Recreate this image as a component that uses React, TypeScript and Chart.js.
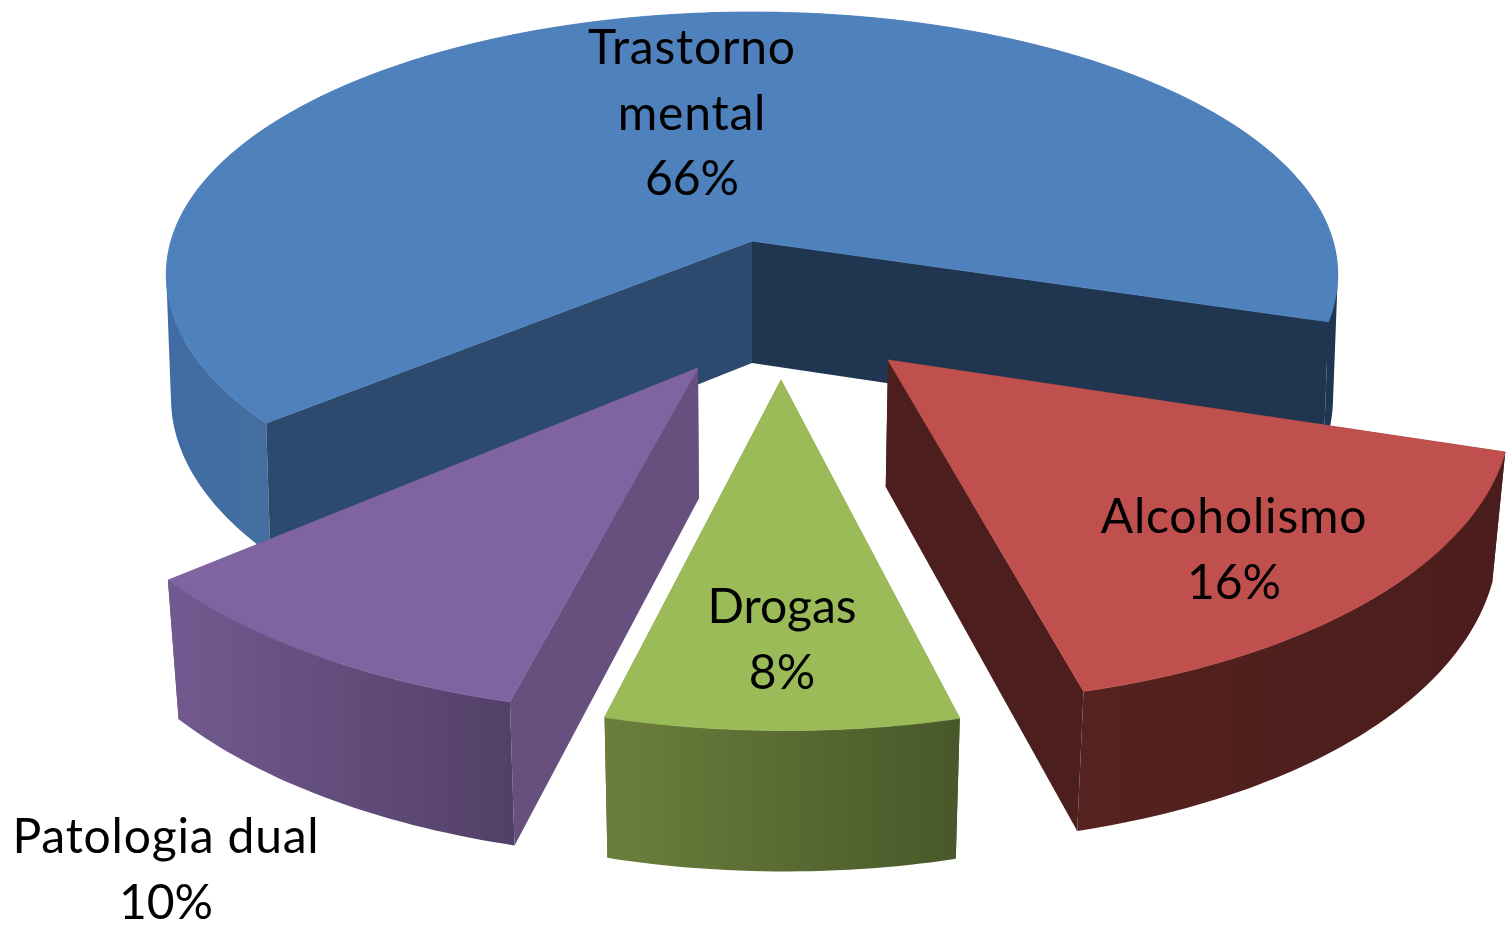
import React, { useEffect, useRef } from "react";
import { Chart, registerables } from "chart.js";

Chart.register(...registerables);

const categories = ["Trastorno mental", "Alcoholismo", "Drogas", "Patologia dual"];
const shares = [66, 16, 8, 10];
const labelLines = [["Trastorno", "mental", "66%"], ["Alcoholismo", "16%"], ["Drogas", "8%"], ["Patologia dual", "10%"]];
const topColors = ["#4F81BD", "#C0504D", "#9BBB59", "#8064A2"];

// Drawing set-up for the 3D look (not data)
const VIEW = { x0: 752, y0: 241, a: 581, b: 257.6, p: 0.125 };
const DEPTH_Q = [0.008, 0.016, 0.016, 0.016];
const DEPTH_C = [123, 124, 124, 127];
const EXPLODE = [[0, 0], [0.2213, 0.4367], [0.0468, 0.5055], [-0.0876, 0.4644]];
const FRONT_STRETCH = [1.015, 1.03, 1.03, 1.03];
const WIDTH_STRETCH = [1, 1, 1, 1.017];
const ANGLE_FIX = [[0.5, 0], [0, 0.8], [1, 0.95], [0.7, 0]];
const DRAW_ORDER = [0, 3, 1, 2];
const RIM = [["#3F6CA3", "#456FA0"], ["#55221F", "#4A1D1C"], ["#6B7F3C", "#48582A"], ["#725A90", "#534067"]];
const WALL_START = ["#2C4A6E", "#4C1E1D", "#4D5F2C", "#674F7E"];
const WALL_END = ["#1F3550", "#4C1E1D", "#4D5F2C", "#5A466F"];
const LABEL_XY = [[692, 49], [1234, 518], [782, 608], [166, 838]];
const LINE_H = 65.5;
const DEG = Math.PI / 180;

function project(u: number, v: number, z: number, q: number, c: number) {
  const w = 1 - VIEW.p * v + q * z;
  return { x: VIEW.x0 + (VIEW.a * u) / w, y: VIEW.y0 + (VIEW.b * v + c * z) / w };
}

const pie3d = {
  id: "pie3d",
  beforeDatasetsDraw(chart: any) {
    const ctx: CanvasRenderingContext2D = chart.ctx;
    const arcs = chart.getDatasetMeta(0).data;
    const poly = (pts: { x: number; y: number }[], fill: any, seam = false) => {
      ctx.beginPath();
      pts.forEach((p, i) => (i ? ctx.lineTo(p.x, p.y) : ctx.moveTo(p.x, p.y)));
      ctx.closePath();
      ctx.fillStyle = fill;
      ctx.fill();
      if (seam) {
        ctx.strokeStyle = fill;
        ctx.lineWidth = 0.8;
        ctx.stroke();
      }
    };
    for (const i of DRAW_ORDER) {
      const props = arcs[i].getProps(["startAngle", "endAngle"], true);
      const startAngle = props.startAngle + ANGLE_FIX[i][0] * DEG;
      const endAngle = props.endAngle + ANGLE_FIX[i][1] * DEG;
      const [ox, oy] = EXPLODE[i];
      const q = DEPTH_Q[i];
      const c = DEPTH_C[i];
      const n = Math.max(8, Math.ceil((endAngle - startAngle) / DEG));
      const at = (k: number, z: number) => {
        const t = startAngle + ((endAngle - startAngle) * k) / n;
        const s = Math.sin(t);
        return project(ox + WIDTH_STRETCH[i] * Math.cos(t), oy + (s > 0 ? FRONT_STRETCH[i] : 1) * s, z, q, c);
      };
      const tipT = project(ox, oy, 0, q, c);
      const tipB = project(ox, oy, 1, q, c);
      const rimT: any[] = [];
      const rimB: any[] = [];
      for (let k = 0; k <= n; k++) {
        rimT.push(at(k, 0));
        rimB.push(at(k, 1));
      }
      const xs = rimT.map((p) => p.x);
      const gx0 = Math.min(...xs);
      const gx1 = Math.max(...xs);
      const g = ctx.createLinearGradient(gx0, 0, gx1, 0);
      g.addColorStop(0, RIM[i][0]);
      if (i === 0) {
        // the whole pie's rim shows at both ends: lit on the left, in shade on the right
        g.addColorStop(0.09, RIM[i][1]);
        g.addColorStop(0.9, RIM[i][1]);
        g.addColorStop(0.92, WALL_END[i]);
        g.addColorStop(1, WALL_END[i]);
      } else {
        g.addColorStop(1, RIM[i][1]);
      }
      const drawRim = () => {
        // One path of equally wound quads, so the strip is filled once, without seams
        ctx.beginPath();
        for (let k = 0; k < n; k++) {
          let quad = [rimT[k], rimT[k + 1], rimB[k + 1], rimB[k]];
          let area = 0;
          quad.forEach((p, j) => {
            const o = quad[(j + 1) % 4];
            area += p.x * o.y - o.x * p.y;
          });
          if (area < 0) quad = quad.slice().reverse();
          quad.forEach((p, j) => (j ? ctx.lineTo(p.x, p.y) : ctx.moveTo(p.x, p.y)));
          ctx.closePath();
        }
        ctx.fillStyle = g;
        ctx.fill("nonzero");
      };
      const drawWalls = () => {
        poly([tipT, rimT[n], rimB[n], tipB], WALL_END[i]);
        poly([tipT, rimT[0], rimB[0], tipB], WALL_START[i]);
      };
      // The whole pie's walls stand in front of its rim; a wedge's rim stands in front of its walls
      if (i === 0) {
        drawRim();
        drawWalls();
      } else {
        drawWalls();
        drawRim();
      }
      poly([tipT, ...rimT], topColors[i], true);
    }
    ctx.fillStyle = "#000";
    ctx.font = '48px Lato, "Noto Sans", sans-serif';
    ctx.textAlign = "center";
    ctx.textBaseline = "middle";
    labelLines.forEach((lines, i) => {
      lines.forEach((s, j) => {
        (ctx as any).letterSpacing = s.length > 6 || s === "mental" ? "0.8px" : "0px";
        ctx.fillText(s, LABEL_XY[i][0], LABEL_XY[i][1] + j * LINE_H);
      });
    });
    (ctx as any).letterSpacing = "0px";
    return false;
  },
};

export default function App() {
  const ref = useRef<HTMLCanvasElement>(null);
  useEffect(() => {
    document.body.style.margin = "0";
    const chart = new Chart(ref.current!, {
      type: "pie",
      data: { labels: categories, datasets: [{ data: shares, backgroundColor: topColors, borderWidth: 0 }] },
      options: {
        responsive: false,
        animation: false,
        rotation: 229.7,
        layout: { padding: 0 },
        plugins: { legend: { display: false }, tooltip: { enabled: false } },
      },
      plugins: [pie3d],
    } as any);
    return () => chart.destroy();
  }, []);
  return <canvas ref={ref} width={1509} height={929} style={{ display: "block" }} />;
}
